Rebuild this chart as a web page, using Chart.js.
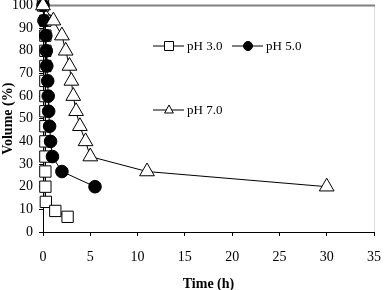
<!DOCTYPE html>
<html>
<head>
<meta charset="utf-8">
<script src="https://cdn.jsdelivr.net/npm/chart.js@4/dist/chart.umd.min.js"></script>
<style>
  html, body { margin: 0; padding: 0; background: #fff; }
</style>
</head>
<body>
<canvas id="volChart" width="384" height="290"></canvas>
<script>
// pH 3.0 (open squares)
const ph3Time = [0, 0.25, 0.25, 0.25, 0.25, 0.25, 0.25, 0.25, 0.25, 0.25, 0.25, 0.25, 0.25, 0.3, 1.3, 2.6];
const ph3Vol  = [100, 93.3, 86.7, 80, 73.3, 66.7, 60, 53.3, 46.7, 40, 33.3, 26.7, 20, 13.3, 9.3, 6.7];

// pH 5.0 (filled circles)
const ph5Time = [0, 0.1, 0.3, 0.35, 0.4, 0.5, 0.55, 0.6, 0.7, 0.8, 1.0, 2.0, 5.5];
const ph5Vol  = [100, 93.3, 86.7, 80, 73.3, 66.7, 60, 53.3, 46.7, 40, 33.3, 26.7, 20];

// pH 7.0 (open triangles)
const ph7Time = [0, 1.1, 2.0, 2.4, 2.8, 3.0, 3.2, 3.5, 3.9, 4.5, 5.0, 11, 30];
const ph7Vol  = [100, 93.3, 86.7, 80, 73.3, 66.7, 60, 53.3, 46.7, 40, 33.3, 26.7, 20];

const seriesLabels = ['pH 3.0', 'pH 5.0', 'pH 7.0'];

function toPoints(xs, ys) {
  return xs.map((x, i) => ({ x: x, y: ys[i] }));
}

Chart.defaults.font.family = '"Liberation Serif", "Times New Roman", serif';
Chart.defaults.color = '#000';

const noPad = () => ({ left: 0, right: 0, top: 0, bottom: 0 });

// gray frame on top and right of the plot area
const frame = {
  id: 'frame',
  beforeDatasetsDraw(chart) {
    const { ctx, chartArea: a } = chart;
    ctx.save();
    ctx.strokeStyle = '#dddddd';
    ctx.lineWidth = 1;
    ctx.beginPath();
    ctx.moveTo(a.right + 0.5, a.top);
    ctx.lineTo(a.right + 0.5, a.bottom);
    ctx.stroke();
    ctx.strokeStyle = '#808080';
    ctx.lineWidth = 2;
    ctx.beginPath();
    ctx.moveTo(a.left, a.top);
    ctx.lineTo(a.right + 1, a.top);
    ctx.stroke();
    ctx.restore();
  }
};

function marker(ctx, style, x, y, r) {
  ctx.beginPath();
  if (style === 'rect') {
    ctx.rect(x - r, y - r, 2 * r, 2 * r);
    ctx.fillStyle = '#fff';
  } else if (style === 'circle') {
    ctx.arc(x, y, r, 0, Math.PI * 2);
    ctx.fillStyle = '#000';
  } else {
    ctx.moveTo(x, y - r);
    ctx.lineTo(x + r * 0.87, y + r * 0.6);
    ctx.lineTo(x - r * 0.87, y + r * 0.6);
    ctx.closePath();
    ctx.fillStyle = '#fff';
  }
  ctx.fill();
  ctx.stroke();
}

// legend placed inside the plot like the original
const insideLegend = {
  id: 'insideLegend',
  afterDraw(chart) {
    const ctx = chart.ctx;
    const items = [
      { x: 153, y: 46, style: 'rect', r: 4.5 },
      { x: 232, y: 46, style: 'circle', r: 4.5 },
      { x: 153, y: 110, style: 'triangle', r: 5 }
    ];
    ctx.save();
    ctx.strokeStyle = '#000';
    ctx.lineWidth = 1;
    ctx.font = '13px "Liberation Serif", serif';
    ctx.textBaseline = 'middle';
    ctx.fillStyle = '#000';
    items.forEach((it, i) => {
      ctx.beginPath();
      ctx.moveTo(it.x, it.y);
      ctx.lineTo(it.x + 31, it.y);
      ctx.stroke();
      marker(ctx, it.style, it.x + 16, it.y, it.r);
      ctx.fillStyle = '#000';
      ctx.fillText(seriesLabels[i], it.x + 34, it.y + 0.5);
    });
    ctx.restore();
  }
};

new Chart(document.getElementById('volChart'), {
  type: 'scatter',
  data: {
    datasets: [
      {
        label: seriesLabels[0],
        data: toPoints(ph3Time, ph3Vol),
        showLine: true,
        borderColor: '#000',
        borderWidth: 1,
        pointStyle: 'rect',
        pointRadius: 8,
        pointBackgroundColor: '#fff',
        pointBorderColor: '#000',
        pointBorderWidth: 1,
        order: 3,
        clip: false
      },
      {
        label: seriesLabels[1],
        data: toPoints(ph5Time, ph5Vol),
        showLine: true,
        borderColor: '#000',
        borderWidth: 1,
        pointStyle: 'circle',
        pointRadius: 6.3,
        pointBackgroundColor: '#000',
        pointBorderColor: '#000',
        pointBorderWidth: 1,
        order: 2,
        clip: false
      },
      {
        label: seriesLabels[2],
        data: toPoints(ph7Time, ph7Vol),
        showLine: true,
        borderColor: '#000',
        borderWidth: 1,
        pointStyle: 'triangle',
        pointRadius: 8.5,
        pointBackgroundColor: '#fff',
        pointBorderColor: '#000',
        pointBorderWidth: 1,
        order: 1,
        clip: false
      }
    ]
  },
  options: {
    responsive: false,
    animation: false,
    events: [],
    layout: { autoPadding: false, padding: { top: 5.5, right: 10, left: 0, bottom: 0 } },
    plugins: {
      legend: { display: false },
      tooltip: { enabled: false }
    },
    scales: {
      x: {
        type: 'linear',
        min: 0,
        max: 35,
        afterFit: (s) => { s.height = 58; s.getPadding = noPad; },
        ticks: { stepSize: 5, padding: 13, font: { size: 14 } },
        grid: { drawOnChartArea: false, tickLength: 4, color: '#000' },
        border: { color: '#000', width: 1 },
        title: {
          display: true,
          text: 'Time (h)',
          font: { size: 14, weight: 'bold' },
          padding: { top: 0, bottom: -3 }
        }
      },
      y: {
        min: 0,
        max: 100,
        afterFit: (s) => { s.width = 43; s.getPadding = noPad; },
        ticks: { stepSize: 10, padding: 6, font: { size: 14 } },
        grid: { drawOnChartArea: false, tickLength: 4, color: '#000' },
        border: { color: '#000', width: 1 },
        title: {
          display: true,
          text: 'Volume (%)',
          font: { size: 14, weight: 'bold' },
          padding: { top: 0, bottom: 0 }
        }
      }
    }
  },
  plugins: [frame, insideLegend]
});
</script>
</body>
</html>
